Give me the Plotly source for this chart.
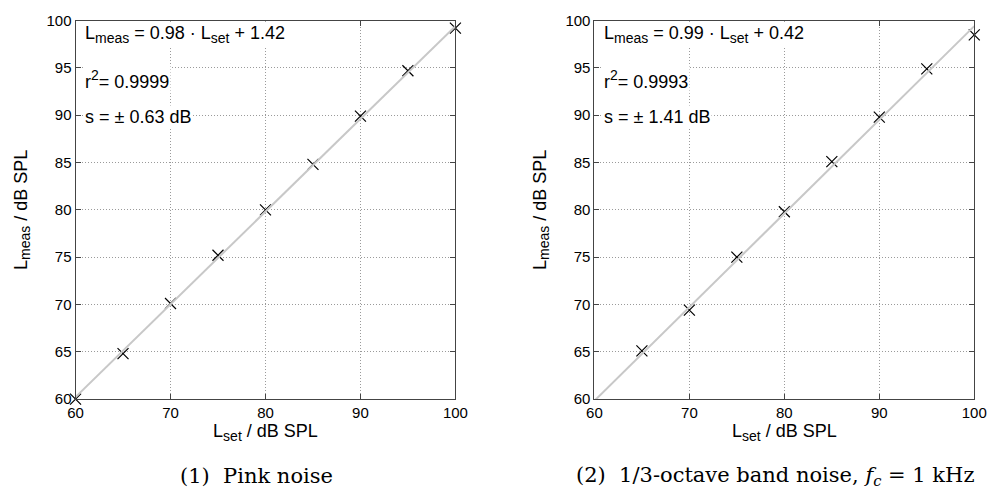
import plotly.graph_objects as go

# Pink noise
pink_set = [60, 65, 70, 75, 80, 85, 90, 95, 100]
pink_meas = [60.0, 64.8, 70.1, 75.2, 80.0, 84.8, 89.9, 94.7, 99.2]
pink_fit = (0.98, 1.42)

# 1/3-octave band noise
band_set = [65, 70, 75, 80, 85, 90, 95, 100]
band_meas = [65.1, 69.4, 75.0, 79.8, 85.1, 89.8, 94.9, 98.5]
band_fit = (0.99, 0.42)

fit_x = [60, 100]
ticks_x = [60, 70, 80, 90, 100]
ticks_y = [60, 65, 70, 75, 80, 85, 90, 95, 100]


def sub(t):
    return "<sub><span style='font-size:14px'>" + t + "</span></sub>"


def sup(t):
    return "<sup><span style='font-size:14px'>" + t + "</span></sup>"


texts = [
    ["L" + sub("meas") + " = 0.98 · L" + sub("set") + " + 1.42", "r" + sup("2") + "= 0.9999", "s = ± 0.63 dB"],
    ["L" + sub("meas") + " = 0.99 · L" + sub("set") + " + 0.42", "r" + sup("2") + "= 0.9993", "s = ± 1.41 dB"],
]
captions = ["(1)  Pink noise", "(2)  1/3-octave band noise, <i>f<sub>c</sub></i> = 1 kHz"]

fig = go.Figure()
sets = [(pink_set, pink_meas, pink_fit), (band_set, band_meas, band_fit)]
for i, (xs, ys, (a, b)) in enumerate(sets):
    xa = "x" if i == 0 else "x2"
    ya = "y" if i == 0 else "y2"
    fig.add_trace(go.Scatter(x=xs, y=ys, mode="markers", xaxis=xa, yaxis=ya,
                             marker=dict(symbol="x-thin", size=11, line=dict(width=1.2, color="black")),
                             showlegend=False, cliponaxis=False))
    fig.add_trace(go.Scatter(x=fit_x, y=[a * v + b for v in fit_x], mode="lines", xaxis=xa, yaxis=ya,
                             line=dict(color="#c8c8c8", width=2), showlegend=False))

font = "Liberation Sans, Arial, sans-serif"
tfont = dict(family=font, size=18, color="black")
axcommon = dict(range=[60, 100], showgrid=True, gridcolor="#9a9a9a", griddash="1px,2px", gridwidth=1,
                showline=True, linecolor="#444", linewidth=1, mirror="ticks", ticks="inside",
                ticklen=5, tickcolor="#444", zeroline=False,
                tickfont=dict(family=font, size=15, color="black"))
ytitle = "L" + sub("meas") + " / dB SPL"
xtitle = "L" + sub("set") + " / dB SPL"
fig.update_layout(
    width=1000, height=501, margin=dict(l=0, r=0, t=0, b=0),
    plot_bgcolor="white", paper_bgcolor="white",
    xaxis=dict(domain=[0.069, 0.457], anchor="y", tickvals=ticks_x, **axcommon,
               title=dict(text=xtitle, font=tfont, standoff=2)),
    yaxis=dict(domain=[0.194, 0.976], anchor="x", tickvals=ticks_y, **axcommon,
               title=dict(text=ytitle, font=tfont, standoff=14)),
    xaxis2=dict(domain=[0.599, 0.987], anchor="y2", tickvals=ticks_x, **axcommon,
                title=dict(text=xtitle, font=tfont, standoff=2)),
    yaxis2=dict(domain=[0.194, 0.976], anchor="x2", tickvals=ticks_y, **axcommon,
                title=dict(text=ytitle, font=tfont, standoff=14)),
)

for i, tx in enumerate(texts):
    xr = "x domain" if i == 0 else "x2 domain"
    yr = "y domain" if i == 0 else "y2 domain"
    for j, t in enumerate(tx):
        fig.add_annotation(xref=xr, yref=yr, x=0.02, y=[0.962, 0.845, 0.745][j], text=t,
                           showarrow=False, xanchor="left", yanchor="middle", bgcolor="white",
                           font=dict(family=font, size=18, color="black"))

cap_x = [0.254, 0.783]
for i, c in enumerate(captions):
    fig.add_annotation(xref="paper", yref="paper", x=cap_x[i], y=0.036, text=c, showarrow=False,
                       xanchor="center", yanchor="middle",
                       font=dict(family="DejaVu Serif, Liberation Serif, serif", size=21, color="black"))

fig.write_html("out.html")
